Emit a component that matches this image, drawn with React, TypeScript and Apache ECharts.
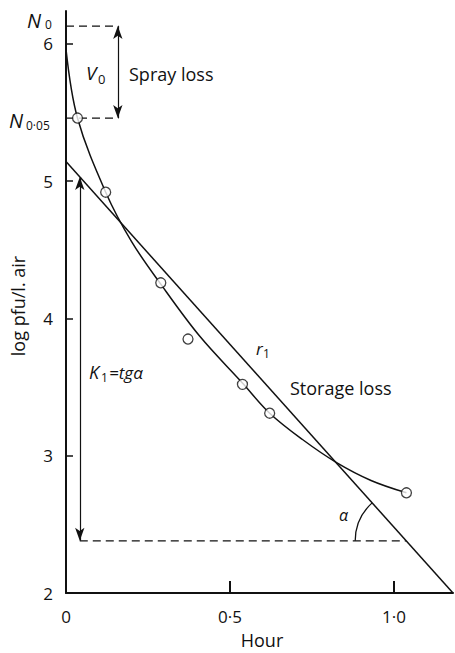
import React, { useEffect, useRef } from 'react';
import * as echarts from 'echarts';

// Tick values
const yTicks = [2, 3, 4, 5, 6];
const xTicks = [0, 0.5, 1.0];

// Observed points (hour, log pfu / l. air)
const hours = [0.035, 0.121, 0.289, 0.372, 0.538, 0.621, 1.038];
const logPfu = [5.46, 4.92, 4.26, 3.85, 3.52, 3.31, 2.73];

// Hand-drawn fitted curve
const curveHours = [0, 0.035, 0.121, 0.2, 0.289, 0.408, 0.538, 0.621, 0.72, 0.825, 0.93, 1.038];
const curveLog = [5.96, 5.46, 4.92, 4.56, 4.25, 3.87, 3.53, 3.31, 3.12, 2.95, 2.82, 2.73];

// Straight line r1
const lineHours = [0, 1.18];
const lineLog = [5.143, 2];

// Annotation levels
const n0Level = 6.13;
const n005Level = 5.46;
const baseLevel = 2.38;
const sprayX = 0.158;
const dashEndX = 0.16;
const kX = 0.042;

const FONT = '"Open Sans", Lato, sans-serif';
const INK = '#111';

const fmt = (v: number) => (v === 0 ? '0' : v.toFixed(1).replace('.', '·'));

export default function App() {
  const ref = useRef<HTMLDivElement>(null);
  useEffect(() => {
    if (!ref.current) return;
    const chart = echarts.init(ref.current, undefined, { renderer: 'svg' });
    const slope = (lineLog[0] - lineLog[1]) / (lineHours[1] - lineHours[0]);
    const crossX = (lineLog[0] - baseLevel) / slope;
    const kTop = lineLog[0] - slope * kX;
    const dashed = { color: INK, width: 1.2, type: [8, 5] as any };
    const arrowLine = (x: number, y1: number, y2: number) => ({
      symbol: ['arrow', 'arrow'],
      symbolSize: [7, 13],
      silent: true,
      label: { show: false },
      lineStyle: { color: INK, width: 1.2, type: 'solid' },
      data: [[{ coord: [x, y1] }, { coord: [x, y2] }]],
    });
    chart.setOption({
      animation: false,
      backgroundColor: '#fff',
      grid: { left: 66, right: 2, top: 11, bottom: 60, containLabel: false, outerBoundsMode: 'none' },
      xAxis: {
        type: 'value',
        min: 0,
        max: 1.18,
        splitLine: { show: false },
        axisLine: { show: true, lineStyle: { color: INK, width: 2 } },
        axisTick: { show: true, inside: true, length: 12, customValues: [0.5, 1.0], lineStyle: { color: INK, width: 2 } },
        axisLabel: { customValues: xTicks, formatter: fmt, margin: 15, fontSize: 17, fontFamily: FONT, color: INK },
      },
      yAxis: {
        type: 'value',
        min: 2,
        max: 6.24,
        splitLine: { show: false },
        axisLine: { show: true, onZero: false, lineStyle: { color: INK, width: 2 } },
        axisTick: { show: true, inside: true, length: 7, customValues: yTicks, lineStyle: { color: INK, width: 1.5 } },
        axisLabel: { customValues: yTicks, margin: 13, fontSize: 17, lineHeight: 17, fontFamily: FONT, color: INK },
      },
      series: [
        {
          type: 'line',
          smooth: 0.35,
          showSymbol: false,
          silent: true,
          lineStyle: { color: INK, width: 1.5 },
          data: curveHours.map((h, i) => [h, curveLog[i]]),
          z: 3,
        },
        {
          type: 'line',
          showSymbol: false,
          silent: true,
          lineStyle: { color: INK, width: 1.5 },
          data: lineHours.map((h, i) => [h, lineLog[i]]),
          z: 3,
        },
        {
          type: 'line',
          showSymbol: false,
          silent: true,
          lineStyle: dashed,
          data: [[0, n0Level], [dashEndX, n0Level]],
          markLine: arrowLine(sprayX, n005Level, n0Level),
        },
        {
          type: 'line',
          showSymbol: false,
          silent: true,
          lineStyle: dashed,
          data: [[0, n005Level], [dashEndX, n005Level]],
        },
        {
          type: 'line',
          showSymbol: false,
          silent: true,
          lineStyle: dashed,
          data: [[kX, baseLevel], [crossX, baseLevel]],
          markLine: arrowLine(kX, baseLevel, kTop),
        },
        {
          type: 'scatter',
          symbol: 'circle',
          symbolSize: 10,
          silent: true,
          itemStyle: { color: '#fff', borderColor: INK, borderWidth: 1.3 },
          data: hours.map((h, i) => [h, logPfu[i]]),
          z: 5,
        },
      ],
    });

    const c = chart.convertToPixel({ gridIndex: 0 }, [crossX, baseLevel]) as number[];
    const p0 = chart.convertToPixel({ gridIndex: 0 }, [lineHours[0], lineLog[0]]) as number[];
    const p1 = chart.convertToPixel({ gridIndex: 0 }, [lineHours[1], lineLog[1]]) as number[];
    const ang = Math.atan2(p1[1] - p0[1], p1[0] - p0[0]);

    const txt = (text: string, x: number, y: number, size: number, extra: any = {}) => ({
      type: 'text',
      x,
      y,
      silent: true,
      style: { text, fontSize: size, lineHeight: size, fontFamily: FONT, fill: INK, align: 'left', verticalAlign: 'middle', ...extra },
    });
    const it = { fontStyle: 'italic' };

    chart.setOption({
      graphic: [
        {
          type: 'arc',
          silent: true,
          shape: { cx: c[0], cy: c[1], r: 51, startAngle: Math.PI, endAngle: Math.PI + ang, clockwise: true },
          style: { stroke: INK, lineWidth: 1.3, fill: 'none' },
        },
        txt('N', 27, 20, 20, it),
        txt('0', 45, 24, 12),
        txt('N', 9, 120, 20, it),
        txt('0·05', 26, 125, 12),
        txt('V', 86, 73, 19, it),
        txt('0', 98, 79, 13),
        txt('Spray loss', 129, 74, 18),
        txt('K', 89, 372, 18, it),
        txt('1', 101, 377, 12),
        txt('=tgα', 109, 372, 17, it),
        txt('r', 256, 348, 17, it),
        txt('1', 263, 353, 12),
        txt('Storage loss', 290, 388, 18),
        txt('α', 339, 515, 16, it),
        txt('Hour', 262, 640, 18, { align: 'center' }),
        {
          type: 'text',
          x: 18,
          y: 306,
          rotation: Math.PI / 2,
          silent: true,
          style: { text: 'log pfu/l. air', fontSize: 18, fontFamily: FONT, fill: INK, align: 'center', verticalAlign: 'middle' },
        },
      ],
    });
    return () => chart.dispose();
  }, []);
  return (
    <div
      ref={ref}
      style={{ position: 'fixed', left: 0, top: 0, width: 455, height: 653, background: '#fff' }}
    />
  );
}
